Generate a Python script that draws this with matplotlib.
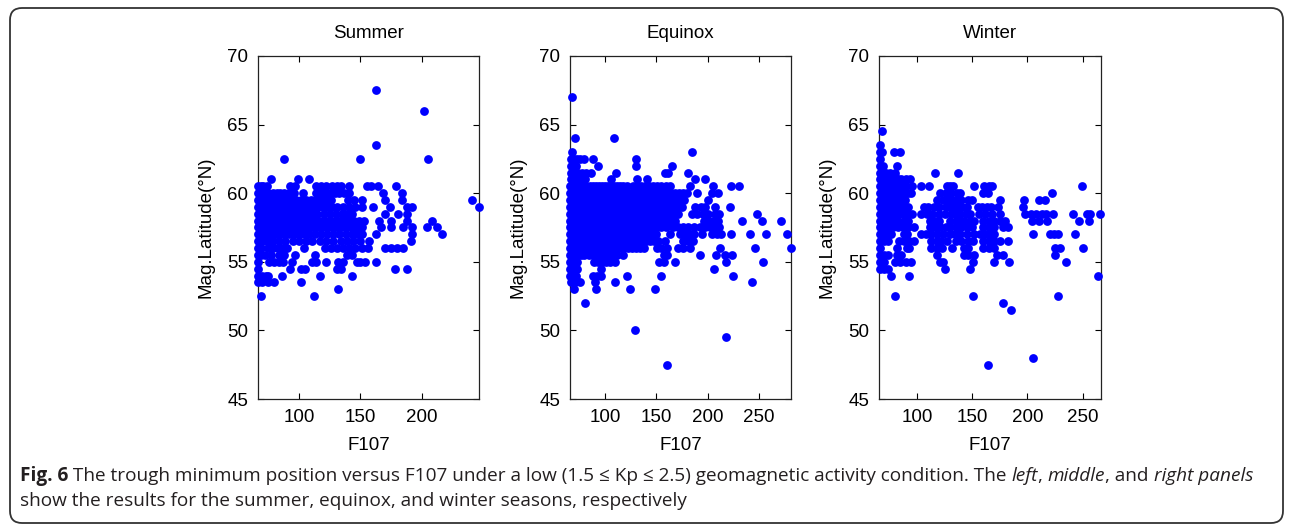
import matplotlib.pyplot as plt
from matplotlib.patches import FancyBboxPatch

# trough minimum latitude per 0.5 deg row -> list of F107 values on that row
summer_rows = {
    67.5: [163],
    66.0: [202],
    63.5: [163],
    62.5: [88, 150, 205],
    61.0: [77, 99, 108],
    60.5: [67, 69, 71, 74, 93, 97, 114, 118, 122, 127, 131, 134, 141, 155, 159, 164, 179],
    60.0: [67, 68, 70, 72, 75, 79, 82, 85, 88, 92, 96, 103, 114, 118, 121, 125, 129, 133, 137, 141, 168, 184],
    59.5: [67, 68, 69, 71, 73, 75, 78, 81, 84, 87, 90, 94, 98, 102, 106, 110, 114, 118, 122, 126,
           140, 145, 151, 170, 184, 241],
    59.0: [67, 68, 69, 70, 72, 74, 77, 80, 83, 86, 89, 92, 95, 99, 103, 107, 111, 115, 119, 123,
           127, 131, 136, 141, 146, 151, 160, 174, 188, 192, 246.5],
    58.5: [67, 68, 69, 71, 73, 76, 79, 82, 85, 88, 91, 95, 99, 103, 107, 111, 115, 120, 125, 130,
           135, 139, 143, 170, 181, 188],
    58.0: [67, 68, 69, 70, 72, 74, 77, 80, 83, 86, 89, 93, 97, 101, 105, 109, 113, 117, 121, 125,
           129, 133, 137, 141, 145, 149, 153, 165, 175, 188, 208],
    57.5: [67, 68, 69, 71, 73, 75, 78, 81, 84, 87, 91, 95, 99, 103, 107, 111, 115, 119, 123, 127,
           131, 135, 139, 143, 147, 151, 167, 175, 185, 192, 204, 212],
    57.0: [67, 68, 70, 72, 75, 78, 81, 84, 88, 92, 96, 100, 104, 108, 113, 118, 123, 128, 133, 138,
           143, 147, 151, 163, 192, 216],
    56.5: [67, 68, 70, 73, 76, 79, 84, 89, 95, 100, 106, 111, 117, 122, 128, 134, 139, 144, 150, 157, 191],
    56.0: [67, 69, 75, 79, 83, 87, 90, 104, 121, 126, 131, 136, 141, 146, 151, 156, 170, 175, 180, 185],
    55.5: [67, 69, 72, 77, 84, 88, 97, 113, 139, 143],
    55.0: [67, 76, 80, 84, 87, 94, 111, 114, 122, 132, 136, 147, 150, 154, 163],
    54.5: [67, 93, 102, 105, 131, 134, 178, 188],
    54.0: [67, 70, 73, 75, 86, 117, 143],
    53.5: [67, 70, 75, 80, 102],
    53.0: [132],
    52.5: [69, 112],
}

equinox_rows = {
    67.0: [68],
    64.0: [71, 109],
    63.0: [68, 185],
    62.5: [67, 70, 73, 76, 80, 88, 130],
    62.0: [67, 69, 72, 93, 130, 165],
    61.5: [67, 69, 71, 74, 78, 82, 86, 111, 158, 161, 181],
    61.0: [67, 68, 70, 72, 75, 78, 81, 106, 131, 141, 188, 197],
    60.5: [66, 67, 68, 70, 72, 74, 76, 79, 82, 85, 88, 91, 94, 97, 100, 103, 106, 109, 112, 115,
           118, 121, 127, 131, 135, 139, 143, 147, 151, 155, 159, 163, 183, 205, 223, 230],
    60.0: [66, 67, 68, 69, 71, 73, 75, 78, 81, 84, 87, 90, 93, 96, 99, 102, 105, 108, 111, 114,
           117, 120, 124, 128, 132, 136, 140, 144, 148, 152, 156, 160, 164, 168, 172, 176, 180,
           190, 204, 210],
    59.5: [66, 67, 68, 69, 70, 72, 74, 76, 79, 82, 85, 88, 91, 94, 97, 100, 103, 106, 109, 112,
           115, 118, 121, 125, 129, 133, 137, 141, 145, 149, 153, 157, 161, 165, 169, 173, 177, 200],
    59.0: [66, 67, 68, 69, 71, 73, 75, 77, 80, 83, 86, 89, 92, 95, 98, 101, 104, 107, 110, 113,
           116, 119, 123, 127, 131, 135, 139, 143, 147, 151, 155, 159, 163, 167, 171, 175, 188,
           193, 197, 207, 222],
    58.5: [66, 67, 68, 70, 72, 74, 76, 79, 82, 85, 88, 91, 94, 97, 100, 103, 106, 109, 112, 115,
           118, 122, 126, 130, 134, 138, 142, 146, 150, 154, 158, 162, 166, 171, 185, 190, 195,
           200, 207, 211, 248],
    58.0: [66, 67, 68, 69, 71, 73, 75, 78, 81, 84, 87, 90, 93, 96, 99, 102, 105, 108, 111, 114,
           117, 120, 124, 128, 132, 136, 140, 144, 148, 152, 156, 160, 164, 168, 196, 200, 205,
           210, 233, 253, 271],
    57.5: [66, 67, 68, 70, 72, 74, 77, 80, 83, 86, 89, 92, 95, 98, 101, 104, 107, 110, 113, 116,
           119, 123, 127, 131, 135, 139, 143, 147, 151, 155, 159, 166, 171, 176, 181, 187, 192,
           197, 202, 207, 211],
    57.0: [66, 67, 68, 69, 71, 73, 76, 79, 82, 85, 88, 91, 94, 97, 100, 103, 106, 109, 112, 115,
           118, 122, 126, 130, 134, 138, 142, 146, 150, 163, 173, 178, 183, 187, 194, 204, 209,
           213, 223, 241, 257, 277],
    56.5: [66, 67, 68, 70, 72, 74, 77, 80, 83, 86, 89, 92, 95, 98, 101, 104, 107, 110, 113, 116,
           120, 124, 128, 132, 136, 140, 144, 148, 152, 158, 176, 181, 186],
    56.0: [66, 67, 68, 69, 71, 73, 76, 79, 82, 85, 88, 91, 94, 97, 100, 103, 106, 110, 114, 118,
           122, 126, 130, 134, 138, 151, 155, 160, 171, 176, 183, 212, 246, 281],
    55.5: [66, 67, 68, 70, 72, 74, 77, 80, 84, 88, 92, 96, 100, 104, 108, 112, 118, 157, 160,
           192, 208, 217, 224],
    55.0: [66, 67, 69, 71, 73, 89, 93, 97, 101, 105, 110, 153, 157, 168, 218, 254],
    54.5: [66, 67, 69, 71, 73, 96, 206],
    54.0: [66, 68, 70, 72, 88, 92, 96, 121, 155, 225],
    53.5: [67, 69, 71, 76, 90, 110, 243],
    53.0: [70, 91, 124, 149],
    52.0: [81],
    50.0: [129],
    49.5: [218],
    47.5: [160],
}

winter_rows = {
    64.5: [68],
    63.5: [67],
    63.0: [67, 68, 79, 85],
    62.5: [67],
    62.0: [67, 69, 82],
    61.5: [67, 70, 72, 76, 80, 116, 137],
    61.0: [67, 68, 70, 72, 74, 77, 80, 83, 86, 90, 94],
    60.5: [67, 68, 70, 73, 76, 79, 82, 86, 90, 96, 104, 111, 127, 130, 133, 152, 161, 165, 168, 249],
    60.0: [67, 69, 71, 74, 77, 80, 83, 86, 89, 92, 95, 121, 126, 131, 136, 139, 160, 164, 222],
    59.5: [67, 69, 72, 75, 78, 81, 85, 89, 118, 124, 128, 132, 136, 140, 146, 150, 175, 197, 210, 216],
    59.0: [67, 70, 74, 77, 80, 84, 88, 92, 106, 110, 115, 120, 126, 131, 134, 138, 141, 145, 155,
           159, 163, 167, 173, 196],
    58.5: [67, 70, 73, 76, 80, 84, 88, 92, 96, 104, 109, 114, 120, 125, 131, 135, 139, 144, 148,
           156, 162, 168, 175, 198, 203, 208, 213, 217, 223, 241, 254, 257, 266],
    58.0: [67, 71, 75, 79, 83, 88, 92, 112, 116, 120, 130, 135, 139, 143, 148, 152, 160, 165, 170,
           175, 180, 204, 210, 218, 247, 256],
    57.5: [67, 70, 74, 78, 83, 87, 92, 97, 112, 116, 121, 126, 130, 135, 140, 145, 150, 160, 165,
           170, 178, 182],
    57.0: [67, 71, 74, 77, 88, 91, 104, 108, 113, 118, 124, 130, 134, 139, 145, 152, 157, 162, 166,
           170, 205, 220, 224, 228, 243],
    56.5: [67, 70, 74, 84, 88, 93, 97, 113, 118, 122, 127, 135, 140, 146, 151, 160, 165, 170, 175, 182],
    56.0: [67, 82, 91, 93, 113, 118, 123, 132, 143, 146, 160, 165, 170, 225, 229, 250],
    55.5: [67, 70, 74, 82, 86, 118, 143, 146, 152, 172, 178, 225],
    55.0: [67, 70, 80, 85, 90, 95, 121, 124, 151, 170, 183, 235],
    54.5: [67, 70, 74, 125, 148],
    54.0: [77, 93, 264],
    52.5: [80, 151, 228],
    52.0: [178],
    51.5: [185],
    48.0: [205],
    47.5: [164],
}

seasons = ["Summer", "Equinox", "Winter"]
xlims = [(66.7, 246.5), (66.0, 281.0), (65.7, 266.5)]
xticks = [[100, 150, 200], [100, 150, 200, 250], [100, 150, 200, 250]]
yticks = [45, 50, 55, 60, 65, 70]

W, H = 1290, 526
fig = plt.figure(figsize=(W / 100, H / 100), dpi=100)
plt.rcParams['font.family'] = ['Liberation Sans', 'DejaVu Sans']

# rounded frame around figure + caption
frame = FancyBboxPatch((0.10, 0.03), 12.73, 5.15,
                       boxstyle="round,pad=0,rounding_size=0.12",
                       transform=fig.dpi_scale_trans, fill=False,
                       edgecolor='#333333', linewidth=1.3)
fig.patches.append(frame)

lefts = [258, 570, 879]
widths = [221, 221, 222]
top, bottom = 56, 399

for name, rows, xl, xt, x0, w in zip(seasons, [summer_rows, equinox_rows, winter_rows],
                                      xlims, xticks, lefts, widths):
    ax = fig.add_axes([x0 / W, 1 - bottom / H, w / W, (bottom - top) / H])
    f107 = [f for lat, fs in rows.items() for f in fs]
    mlat = [lat for lat, fs in rows.items() for f in fs]
    ax.scatter(f107, mlat, s=40, c='#0000ff', linewidths=0, clip_on=False, zorder=3)
    ax.set_xlim(xl)
    ax.set_ylim(45, 70)
    ax.set_xticks(xt)
    ax.set_yticks(yticks)
    ax.tick_params(direction='in', top=True, right=True, length=4, width=0.8,
                   labelsize=13.5, pad=7)
    for sp in ax.spines.values():
        sp.set_linewidth(0.9)
        sp.set_color('#222222')
    ax.set_title(name, fontsize=13.5, pad=13)
    ax.set_xlabel('F107', fontsize=13.5, labelpad=8)
    ax.set_ylabel('Mag.Latitude(°N)', fontsize=13.5, labelpad=9)

# caption, built from pieces so bold / italic words can be mixed
cap_font = ['Open Sans', 'DejaVu Sans']
cap_col = '#231f20'
cap_size = 13.7
renderer = fig.canvas.get_renderer()


def put_line(pieces, x_px, y_px):
    x = x_px
    for s, weight, style in pieces:
        t = fig.text(x / W, 1 - y_px / H, s, fontsize=cap_size, family=cap_font,
                     weight=weight, style=style, color=cap_col, va='center', ha='left')
        x += t.get_window_extent(renderer).width


line1 = [("Fig. 6", 'bold', 'normal'),
         (" The trough minimum position versus F107 under a low (1.5 \u2264 Kp \u2264 2.5) "
          "geomagnetic activity condition. The ", 'normal', 'normal'),
         ("left", 'normal', 'italic'),
         (", ", 'normal', 'normal'),
         ("middle", 'normal', 'italic'),
         (", and ", 'normal', 'normal'),
         ("right panels", 'normal', 'italic')]
line2 = [("show the results for the summer, equinox, and winter seasons, respectively",
          'normal', 'normal')]
put_line(line1, 20, 476)
put_line(line2, 20, 501)

fig.savefig('out.png', dpi=100)
